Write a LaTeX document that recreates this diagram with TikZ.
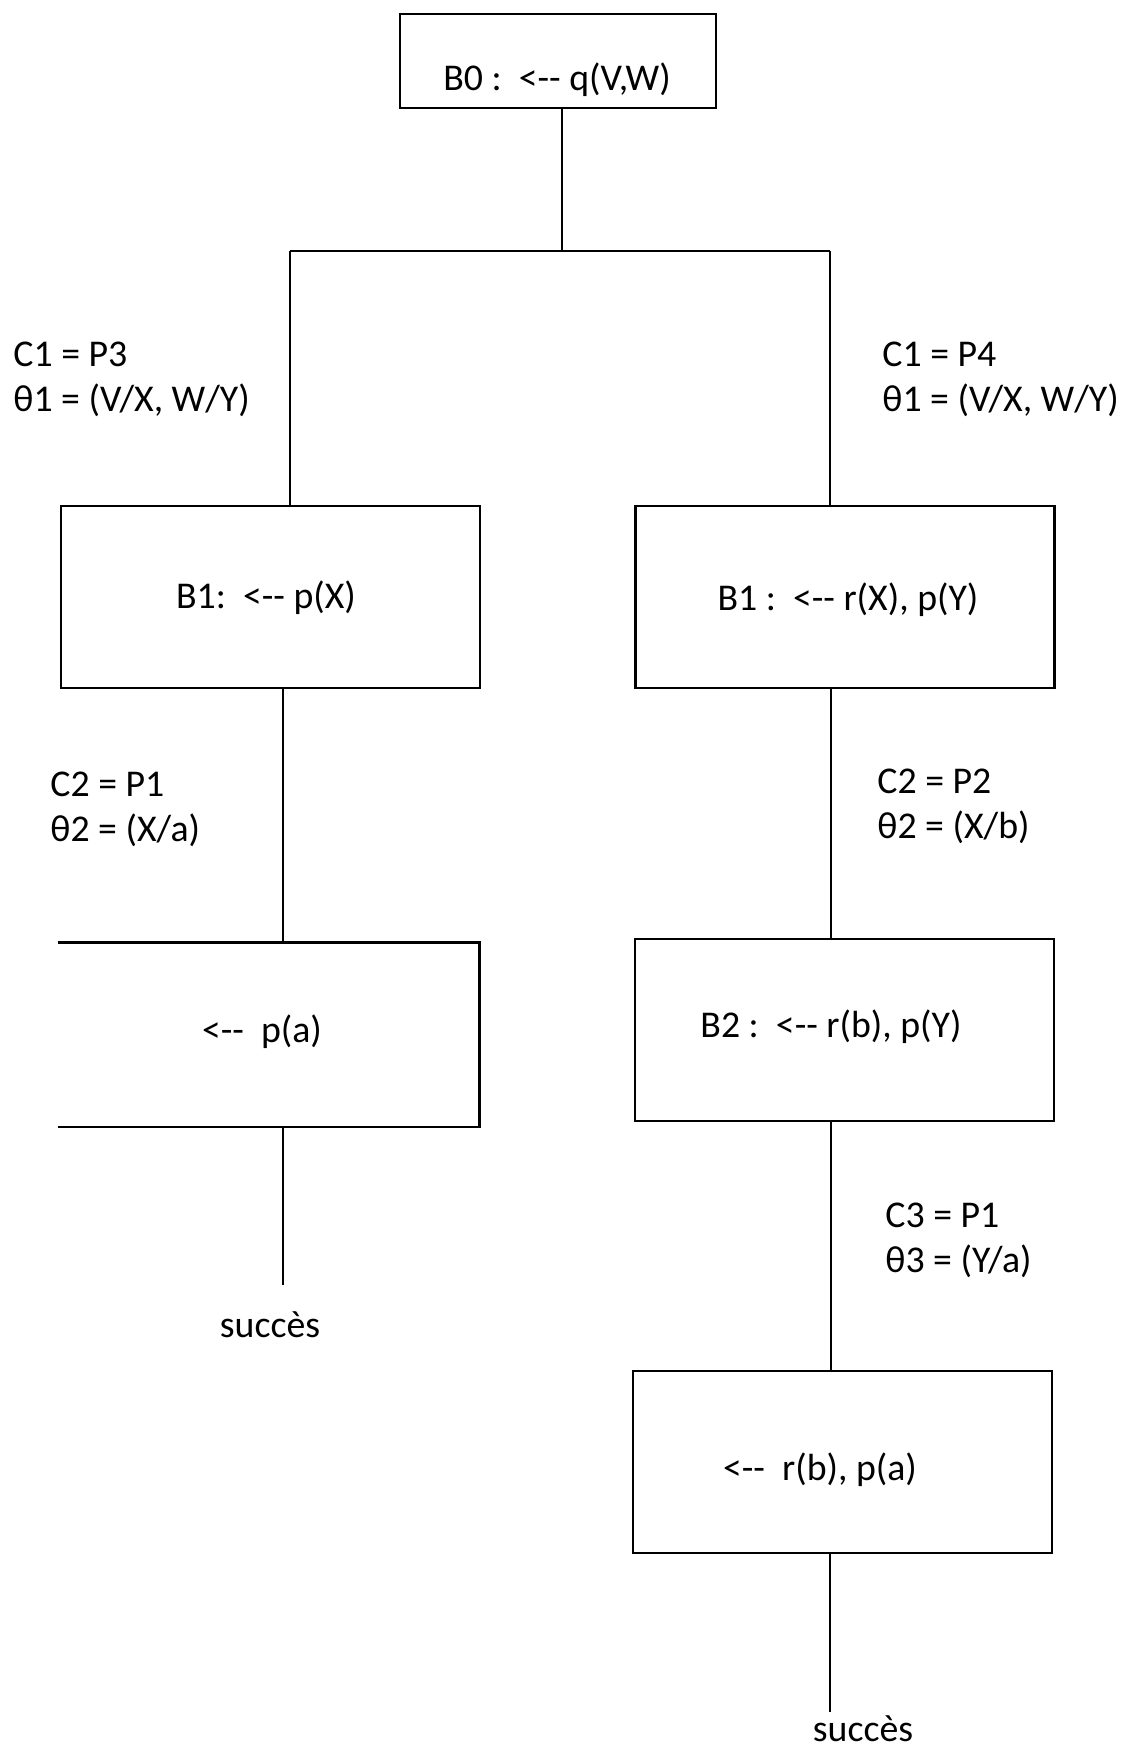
\documentclass[tikz,border=0pt]{standalone}
\usepackage{fontspec}
\setmainfont{Carlito}
\usetikzlibrary{calc}

\begin{document}
\begin{tikzpicture}[x=0.5pt, y=-0.5pt, line width=1.4pt,
    every node/.style={font=\fontsize{18.9}{22.5}\selectfont},
    box/.style={draw, minimum width=209.5pt, minimum height=91pt, inner sep=0pt},
    openbox/.style={minimum width=209.5pt, minimum height=91pt, inner sep=0pt},
    lbl/.style={anchor=west, align=left, inner sep=0pt}]
  \path[use as bounding box, fill=white] (0,0) rectangle (1124,1752);

  % Boxes
  \node[box, minimum width=158pt, minimum height=47pt] (b0) at (558,61) {};
  \node[box] (b1l) at (270.5,597) {};
  \node[box] (b1r) at (845,597) {};
  \node[openbox] (pa) at (268.5,1034.5) {};
  \draw (pa.north west) -- (pa.north east) -- (pa.south east) -- (pa.south west);
  \node[box] (b2) at (844.5,1030) {};
  \node[box] (b3) at (842.5,1462) {};

  % Box texts
  \node (b0txt) at (557,80) {B0 :~~<-{}- q(V,W)};
  \node (b1ltxt) at (266,598) {B1:~~<-{}- p(X)};
  \node (b1rtxt) at (848,600) {B1 :~~<-{}- r(X), p(Y)};
  \node (patxt) at (262,1032) {<-{}-~~p(a)};
  \node (b2txt) at (831,1027) {B2 :~~<-{}- r(b), p(Y)};
  \node (b3txt) at (820,1470) {<-{}-~~r(b), p(a)};

  % Fork under B0
  \coordinate (fork) at (562,251);
  \coordinate (forkL) at (290,251);
  \coordinate (forkR) at (830,251);
  \draw (b0.south -| fork) -- (fork);
  \draw (forkL) -- (forkR);
  \draw (forkL) -- (forkL |- b1l.north);
  \draw (forkR) -- (forkR |- b1r.north);

  % Stems
  \coordinate (sL) at (283,0);
  \coordinate (sR) at (831,0);
  \coordinate (endL) at (283,1285);
  \coordinate (endR) at (830,1712);
  \draw (b1l.south -| sL) -- (pa.north -| sL);
  \draw (b1r.south -| sR) -- (b2.north -| sR);
  \draw (b2.south -| sR) -- (b3.north -| sR);
  \draw (pa.south -| sL) -- (endL);
  \draw (b3.south -| endR) -- (endR);

  % Labels
  \node[lbl] (c1l) at (12,379) {C1 = P3\\θ1 = (V/X, W/Y)};
  \node[lbl] (c1r) at (881,379) {C1 = P4\\θ1 = (V/X, W/Y)};
  \node[lbl] (c2l) at (49,809) {C2 = P1\\θ2 = (X/a)};
  \node[lbl] (c2r) at (876,806) {C2 = P2\\θ2 = (X/b)};
  \node[lbl] (c3) at (884,1240) {C3 = P1\\θ3 = (Y/a)};
  \node (sucL) at (270,1325) {succès};
  \node (sucR) at (863,1729) {succès};
\end{tikzpicture}
\end{document}
